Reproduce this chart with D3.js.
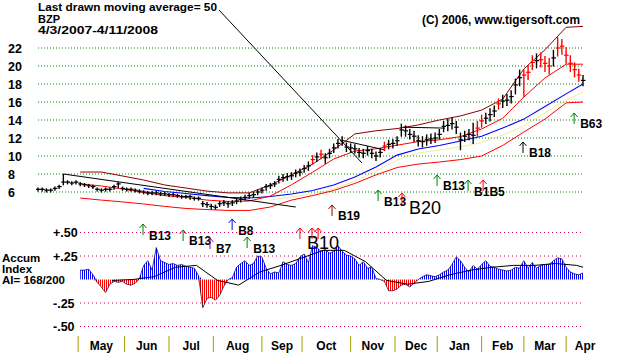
<!DOCTYPE html>
<html>
<head>
<meta charset="utf-8">
<script src="https://cdn.jsdelivr.net/npm/d3@7"></script>
<style>
  body { margin: 0; background: #fff; }
  svg { display: block; font-family: "Liberation Sans", Arial, sans-serif; font-weight: bold; }
</style>
</head>
<body>
<svg id="chart" width="629" height="354"></svg>
<script>
// ---- data, 4/3/2007 - 4/11/2008 ----
const firstDay = new Date(2007, 3, 3);
const lastDay = new Date(2008, 3, 11);
const marketHolidays = ["2007-04-06", "2007-05-28", "2007-07-04", "2007-09-03", "2007-11-22",
  "2007-12-25", "2008-01-01", "2008-01-21", "2008-02-18", "2008-03-21"];

// one bar every second trading day
const closes = [6.3,6.3,6.2,6.2,6.4,6.6,7.1,7.1,7.0,7.1,
  6.9,6.8,6.7,6.6,6.3,6.2,6.3,6.3,6.6,6.9,
  6.4,6.3,6.3,6.2,6.1,6.0,5.9,5.9,5.9,5.8,
  5.8,5.7,5.7,5.6,5.5,5.5,5.5,5.3,5.3,4.7,
  4.6,4.4,4.3,4.7,4.8,4.7,4.8,5.0,5.2,5.4,
  5.6,5.7,6.0,6.2,6.6,6.7,6.9,7.4,7.6,7.7,
  7.8,8.1,8.2,8.6,8.9,9.6,9.9,10.2,9.8,10.3,
  10.9,11.4,11.7,11.0,10.9,10.8,10.4,10.3,10.6,10.3,
  10.0,10.4,11.1,11.3,11.4,11.7,12.9,12.8,12.4,12.2,
  11.7,11.6,11.8,11.9,12.0,12.4,13.3,13.4,13.6,13.2,
  11.8,12.2,12.4,12.3,13.1,13.9,14.2,14.6,15.0,15.8,
  16.1,16.2,16.6,17.9,18.7,19.0,19.3,20.4,20.6,20.7,
  20.3,20.0,20.9,22.0,22.2,21.2,20.3,19.6,19.0,18.4];
const highs = [6.5,6.5,6.4,6.4,6.6,6.8,8.0,7.3,7.2,7.3,
  7.1,7.0,6.9,6.8,6.5,6.4,6.5,6.5,6.8,7.1,
  6.6,6.5,6.5,6.4,6.3,6.2,6.1,6.1,6.1,6.0,
  6.0,5.9,5.9,5.8,5.7,5.7,5.7,5.5,5.5,5.0,
  4.9,4.7,4.6,5.0,5.1,5.0,5.1,5.3,5.5,5.7,
  5.9,6.0,6.3,6.5,6.9,7.0,7.2,7.8,8.0,8.1,
  8.2,8.5,8.6,9.0,9.4,10.1,10.4,10.7,10.3,10.8,
  11.4,11.9,12.2,11.5,11.4,11.3,10.9,10.8,11.1,10.8,
  10.5,10.9,11.6,11.8,11.9,12.2,13.6,13.4,13.0,12.8,
  12.3,12.2,12.4,12.5,12.6,13.0,13.9,14.1,14.3,13.9,
  12.6,12.8,13.0,13.7,13.9,14.6,14.8,15.3,15.6,16.4,
  16.8,16.9,17.3,18.6,19.6,19.6,20.1,21.2,21.4,21.5,
  21.1,20.9,21.8,23.2,23.0,22.1,21.2,20.4,19.7,19.0];
const lows = [6.1,6.1,6.0,6.0,6.2,6.4,6.8,6.9,6.8,6.9,
  6.7,6.6,6.5,6.4,6.1,6.0,6.1,6.1,6.3,6.5,
  6.2,6.1,6.1,6.0,5.9,5.8,5.7,5.7,5.7,5.6,
  5.6,5.5,5.5,5.4,5.3,5.3,5.2,5.1,5.1,4.4,
  4.3,4.1,4.1,4.4,4.5,4.3,4.5,4.7,4.9,5.1,
  5.3,5.4,5.7,5.9,6.2,6.4,6.6,7.0,7.2,7.3,
  7.4,7.7,7.8,8.2,8.4,9.1,9.4,9.7,9.2,9.8,
  10.4,10.9,11.2,10.5,10.4,10.3,9.9,9.8,10.1,9.8,
  9.5,9.9,10.6,10.8,10.9,11.2,12.2,12.2,11.9,11.6,
  11.1,11.0,11.2,11.4,11.5,11.9,12.7,12.8,13.0,12.5,
  10.7,11.6,11.8,11.4,12.2,13.2,13.6,13.9,14.4,15.2,
  15.4,15.6,15.9,16.9,17.8,16.6,18.5,19.6,19.8,19.9,
  19.4,19.1,20.0,21.1,21.3,20.3,19.4,18.8,18.3,17.8];
const redBars = [65,67,82,104,105,109,115,116,117,119,120,121,123,124,125,126,127,128];

// bands and averages, sampled every 10 trading days
const bandDays = [20,30,40,50,60,70,80,90,100,110,120,130,140,150,160,170,180,190,200,210,220,230,240,250,258];
const upperBand = [8.22,8.22,7.78,7.33,6.78,6.44,6.1,5.9,5.9,6.78,7.9,9.1,10.67,12.45,12.8,13.05,13.45,14.0,14.45,15.1,16.33,19.67,21.8,24.3,24.4];
const ma50 = [6.9,6.67,6.33,5.95,5.6,5.4,5.1,4.95,5.0,5.55,6.8,8.2,9.67,10.55,10.8,11.2,11.6,11.8,12.15,13.0,14.2,16.55,18.67,20.2,20.2];
const lowerBand = [5.33,5.1,4.9,4.67,4.4,4.17,4.05,3.95,3.95,4.33,5.1,5.6,6.17,6.95,7.9,8.72,9.1,9.33,9.6,10.0,11.17,12.67,14.1,15.9,16.0];
const blueDays = bandDays.slice(3);
const blueAvg = [6.4,6.05,5.83,5.6,5.4,5.33,5.5,5.78,6.17,6.78,7.67,8.78,10.1,10.78,11.17,11.67,12.2,13.1,14.1,15.5,16.9,18.0];
const yellowDays = bandDays.slice(9);
const yellowAvg = [5.1,5.45,5.78,6.33,7.22,8.33,9.55,10.33,10.67,11.0,11.5,12.33,13.33,14.78,16.2,17.1];

// drawn trend lines [startDay, startPrice, endDay, endPrice]
const trendLines = [[12, 8.0, 122, 4.33], [145.4, 11.67, 164.3, 10.67], [172.8, 13.2, 192.7, 13.1]];
const pointerEnd = [153.4, 9.22];

// signals: trading day, price level of arrow tip
const signalDays = [49.7, 68.7, 81.4, 91.9, 99, 124, 129.7, 132.6, 139.2, 161, 172.3, 188.9, 203.6, 210.7, 229.6, 253.8];
const signalLevels = [2.44, 1.78, 0.89, 3.0, 1.0, 2.0, 2.0, 2.0, 4.56, 6.22, 5.89, 7.89, 7.33, 7.33, 11.56, 14.78];
const signalNames = ["B13","B13","B7","B8","B13","B10","B10","B10","B19","B13","B20","B13","B13","B15","B18","B63"];
const signalLabels = ["B13","B13","B7","B8","B13","B10","","","B19","B13","B20","B13","B1B5","","B18","B63"];

// accumulation index, every second trading day from bar 10
const accumStart = 10;
const accum = [0.10,0.10,0.11,0.05,-0.03,-0.08,-0.14,-0.05,-0.02,-0.03,
  -0.02,-0.05,-0.06,-0.04,0.01,0.15,0.20,0.10,0.34,0.20,
  0.18,0.16,0.17,0.15,0.16,0.14,0.13,0.12,0.04,-0.30,
  -0.20,-0.19,-0.22,-0.17,-0.07,0.00,0.02,0.13,0.17,0.20,
  0.15,0.17,0.25,0.24,0.12,0.06,0.08,0.07,0.19,0.16,
  0.15,0.17,0.24,0.27,0.18,0.36,0.34,0.30,0.32,0.28,
  0.30,0.36,0.30,0.26,0.25,0.22,0.15,0.19,0.12,0.13,
  0.01,0.00,-0.02,-0.12,-0.12,-0.10,-0.06,-0.05,-0.08,-0.04,
  0.00,0.03,0.05,0.04,0.03,0.05,0.08,0.10,0.16,0.24,
  0.20,0.13,0.08,0.15,0.11,0.16,0.20,0.14,0.13,0.11,
  0.10,0.09,0.10,0.13,0.12,0.20,0.12,0.18,0.12,0.15,
  0.16,0.16,0.20,0.23,0.22,0.13,0.08,0.06,0.05,0.07];
const accumMaDays = [35,45,55,65,75,85,95,105,115,125,135,145,155,165,175,185,195,205,215,225,235,245,255,258];
const accumMa = [-0.01,0.0,0.03,0.13,0.15,-0.01,-0.06,0.08,0.15,0.23,0.31,0.31,0.19,-0.01,-0.05,-0.02,0.05,0.10,0.13,0.15,0.15,0.17,0.15,0.13];

const priceTicks = [22, 20, 18, 16, 14, 12, 10, 8, 6];
const accumTicks = [0.5, 0.25, -0.25, -0.5];
const accumTickLabels = ["+.50", "+.25", "-.25", "-.50"];

// ---- scales ----
const dayKey = d3.timeFormat("%Y-%m-%d");
const tradingDays = d3.timeDay.range(firstDay, d3.timeDay.offset(lastDay, 1))
  .filter(d => d.getDay() !== 0 && d.getDay() !== 6 && !marketHolidays.includes(dayKey(d)));

const x = d3.scaleLinear().domain([0, tradingDays.length - 1]).range([38, 583]);
const yP = d3.scaleLinear().domain([6, 22]).range([192, 48]);
const yA = d3.scaleLinear().domain([-0.5, 0.5]).range([326.5, 232.5]);

const svg = d3.select("#chart");
const defs = svg.append("defs");
function stripes(id, color) {
  const p = defs.append("pattern").attr("id", id)
    .attr("patternUnits", "userSpaceOnUse").attr("width", 2).attr("height", 8);
  p.append("rect").attr("width", 1).attr("height", 8).attr("fill", color);
}
stripes("blueStripes", "#0000ff");
stripes("redStripes", "#ff0000");

// ---- header ----
svg.append("text").attr("x", 38).attr("y", 11).attr("font-size", 11.5)
  .attr("textLength", 179).attr("lengthAdjust", "spacingAndGlyphs")
  .text("Last drawn moving average= 50");
svg.append("text").attr("x", 38).attr("y", 23).attr("font-size", 11).text("BZP");
svg.append("text").attr("x", 38).attr("y", 34).attr("font-size", 11)
  .attr("textLength", 120).attr("lengthAdjust", "spacingAndGlyphs").text("4/3/2007-4/11/2008");
svg.append("text").attr("x", 422).attr("y", 24).attr("font-size", 12)
  .attr("textLength", 158).attr("lengthAdjust", "spacingAndGlyphs")
  .text("(C) 2006, www.tigersoft.com");

// ---- price panel grid ----
svg.append("g").selectAll("line").data(priceTicks).join("line")
  .attr("x1", x(0)).attr("x2", x(tradingDays.length - 1))
  .attr("y1", d => yP(d)).attr("y2", d => yP(d))
  .attr("stroke", "#008000").attr("stroke-dasharray", "1,2");
svg.append("g").selectAll("text").data(priceTicks).join("text")
  .attr("x", 8).attr("y", d => yP(d) + 4.5).attr("font-size", 12.5).text(d => d);

// ---- bands and averages ----
const priceLine = d3.line().x(d => x(d[0])).y(d => yP(d[1]));
function drawLine(days, vals, color, width, opacity) {
  svg.append("path").datum(days.map((d, i) => [d, vals[i]]))
    .attr("d", priceLine).attr("fill", "none").attr("stroke", color)
    .attr("stroke-width", width).attr("opacity", opacity || 1);
}
drawLine(yellowDays, yellowAvg, "#e0e060", 1, 0.6);
drawLine(bandDays, upperBand, "#8b0000", 1);
drawLine(bandDays, lowerBand, "#ff0000", 1);
drawLine(blueDays, blueAvg, "#0000ff", 1.1);
drawLine(bandDays, ma50, "#ff0000", 1);

svg.append("g").selectAll("line").data(trendLines).join("line")
  .attr("x1", d => x(d[0])).attr("y1", d => yP(d[1]))
  .attr("x2", d => x(d[2])).attr("y2", d => yP(d[3]))
  .attr("stroke", "#000").attr("stroke-width", 1);

// ---- price bars ----
const bars = closes.map((c, j) => ({ day: 2 * j, close: c, high: highs[j], low: lows[j], red: redBars.includes(j) }));
const barG = svg.append("g");
barG.selectAll("line.hl").data(bars).join("line").attr("class", "hl")
  .attr("x1", d => x(d.day)).attr("x2", d => x(d.day))
  .attr("y1", d => yP(d.high)).attr("y2", d => yP(d.low) + 0.5)
  .attr("stroke", d => d.red ? "#ff0000" : "#000").attr("stroke-width", 1.4);
barG.selectAll("line.cl").data(bars).join("line").attr("class", "cl")
  .attr("x1", d => x(d.day) - 2).attr("x2", d => x(d.day) + 2.5)
  .attr("y1", d => yP(d.close)).attr("y2", d => yP(d.close))
  .attr("stroke", d => d.red ? "#ff0000" : "#000").attr("stroke-width", 1.2);

// pointer from the header text
svg.append("line").attr("x1", 38 + 179 + 2).attr("y1", 10)
  .attr("x2", x(pointerEnd[0])).attr("y2", yP(pointerEnd[1]))
  .attr("stroke", "#000").attr("stroke-width", 1);

// ---- signals ----
const signalColor = { B13: "#008000", B7: "#990099", B8: "#0000ff", B10: "#ff0000", B19: "#990000",
  B20: "#ff0000", B15: "#ff0000", B18: "#000000", B63: "#008000" };
const bigLabels = ["B10", "B20"];
const sigG = svg.append("g");
signalDays.forEach((day, i) => {
  const sx = x(day), sy = yP(signalLevels[i]);
  const col = signalColor[signalNames[i]];
  sigG.append("path").attr("d", `M${sx},${sy + 11}V${sy}M${sx - 3.5},${sy + 4}L${sx},${sy}L${sx + 3.5},${sy + 4}`)
    .attr("fill", "none").attr("stroke", col).attr("stroke-width", 1);
  const lab = signalLabels[i];
  if (!lab) return;
  if (bigLabels.includes(lab)) {
    sigG.append("text").attr("x", sx + 7).attr("y", sy + 21).attr("font-size", 18)
      .attr("font-weight", "normal").attr("fill", "#000").text(lab);
  } else {
    sigG.append("text").attr("x", sx + 6).attr("y", sy + 15.5).attr("font-size", 12)
      .attr("fill", "#000").text(lab);
  }
});

// ---- accumulation index panel ----
svg.append("g").selectAll("line").data(accumTicks).join("line")
  .attr("x1", 80).attr("x2", x(tradingDays.length - 1))
  .attr("y1", d => yA(d)).attr("y2", d => yA(d))
  .attr("stroke", "#cc0055").attr("stroke-dasharray", "1,3");
svg.append("g").selectAll("text").data(accumTicks).join("text")
  .attr("x", 53).attr("y", d => yA(d) + 4.5).attr("font-size", 12.5)
  .text((d, i) => accumTickLabels[i]);
["Accum", "Index", "AI= 168/200"].forEach((t, i) => {
  svg.append("text").attr("x", 2).attr("y", 262 + i * 11).attr("font-size", 11.5).text(t);
});

const accPts = accum.map((v, k) => [2 * (accumStart + k), v]);
const posArea = d3.area().x(d => x(d[0])).y0(yA(0)).y1(d => yA(Math.max(0, d[1])));
const negArea = d3.area().x(d => x(d[0])).y0(yA(0)).y1(d => yA(Math.min(0, d[1])));
svg.append("path").datum(accPts).attr("d", posArea).attr("fill", "url(#blueStripes)");
svg.append("path").datum(accPts).attr("d", negArea).attr("fill", "url(#redStripes)");
svg.append("path").datum(accPts)
  .attr("d", d3.line().x(d => x(d[0])).y(d => yA(d[1])))
  .attr("fill", "none").attr("stroke", "#000040").attr("stroke-width", 1).attr("opacity", 0.7);
svg.append("path").datum(accumMaDays.map((d, i) => [d, accumMa[i]]))
  .attr("d", d3.line().x(d => x(d[0])).y(d => yA(d[1])))
  .attr("fill", "none").attr("stroke", "#000").attr("stroke-width", 1);

// ---- month axis ----
const monthStarts = tradingDays.map((d, i) => i)
  .filter(i => i > 0 && tradingDays[i].getMonth() !== tradingDays[i - 1].getMonth());
const monthFmt = d3.timeFormat("%b");
svg.append("g").selectAll("line").data(monthStarts).join("line")
  .attr("x1", d => x(d)).attr("x2", d => x(d)).attr("y1", 336).attr("y2", 352)
  .attr("stroke", "#a0a000").attr("stroke-width", 1);
svg.append("g").selectAll("text").data(monthStarts).join("text")
  .attr("x", (d, k) => k < monthStarts.length - 1 ? (x(d) + x(monthStarts[k + 1])) / 2 : x(d) + 19)
  .attr("y", 350).attr("text-anchor", "middle").attr("font-size", 12)
  .text(d => monthFmt(tradingDays[d]));
</script>
</body>
</html>
